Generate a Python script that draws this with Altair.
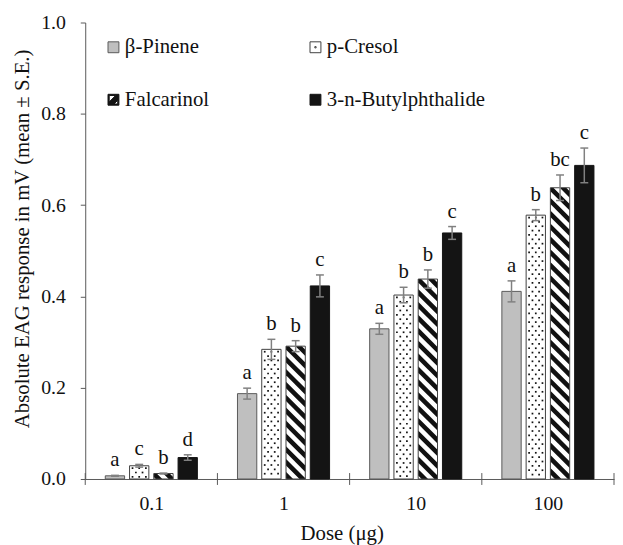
import altair as alt
import pandas as pd
import numpy as np

# ---------------- data ----------------
doses = ["0.1", "1", "10", "100"]
compounds = ["β-Pinene", "p-Cresol", "Falcarinol", "3-n-Butylphthalide"]

pinene_mean = [0.007, 0.187, 0.329, 0.411]
cresol_mean = [0.029, 0.284, 0.403, 0.578]
falcarinol_mean = [0.012, 0.291, 0.438, 0.638]
butyl_mean = [0.047, 0.423, 0.539, 0.687]

pinene_se = [0.001, 0.012, 0.012, 0.023]
cresol_se = [0.003, 0.022, 0.017, 0.012]
falcarinol_se = [0.001, 0.012, 0.020, 0.028]
butyl_se = [0.006, 0.024, 0.014, 0.038]

pinene_sig = ["a", "a", "a", "a"]
cresol_sig = ["c", "b", "b", "b"]
falcarinol_sig = ["b", "b", "b", "bc"]
butyl_sig = ["d", "c", "c", "c"]

# ---------------- styles / layout ----------------
FONT = "Liberation Serif"
FS = 21
W, H = 534, 461
PXX = W / len(doses)      # pixels per category unit
PXY = H / 1.0             # pixels per y unit
BAR_W = 19.5
BAR_STEP = 24.5
CAP = 4.0
fills = ["#bfbfbf", "#ffffff", "#ffffff", "#141414"]
strokes = ["#595959", "#404040", "#404040", "#141414"]
legend_fills = ["#bfbfbf", "#ffffff", "#141414", "#141414"]
legend_strokes = ["#595959", "#404040", "#141414", "#141414"]
shapes = [
    "square",
    "M-1,-1H1V1H-1Z M-0.12,-0.12H0.12V0.12H-0.12Z",
    "M-1,-1L1,-1L1,1L-1,1Z M-0.78,-0.78L-0.78,0.4L0.4,-0.78Z M0.78,0.1L0.1,0.78L0.78,0.78Z",
    "square",
]
AXIS_COL = "#595959"
ERR_COL = "#808080"
TXT_COL = "#111111"
LEG_X0, LEG_DX, LEG_Y0, LEG_DY, LEG_TXT = 28.5, 204, 25, 53, 11.5

means = [pinene_mean, cresol_mean, falcarinol_mean, butyl_mean]
ses = [pinene_se, cresol_se, falcarinol_se, butyl_se]
sigs = [pinene_sig, cresol_sig, falcarinol_sig, butyl_sig]

rows = []
for gi, d in enumerate(doses):
    for ci, c in enumerate(compounds):
        cpx = (gi + 0.5) * PXX + (ci - 1.5) * BAR_STEP
        m = means[ci][gi]
        s = ses[ci][gi]
        rows.append(dict(
            dose=d, compound=c, ci=ci,
            xc=cpx / PXX,
            x0=(cpx - BAR_W / 2) / PXX, x1=(cpx + BAR_W / 2) / PXX,
            c0=(cpx - CAP) / PXX, c1=(cpx + CAP) / PXX,
            mean=m, se=s, lo=m - s, hi=m + s, sig=sigs[ci][gi],
            fill=fills[ci], stroke=strokes[ci], zero=0.0,
        ))
bars = pd.DataFrame(rows)

# dotted pattern (p-Cresol)
dots = []
for _, r in bars[bars.ci == 1].iterrows():
    hpx = r["mean"] * PXY
    x0px = r["x0"] * PXX
    k = 0
    yft = 2.4
    while yft < hpx - 1.2:
        offs = [3.0, 9.75, 16.5] if k % 2 == 0 else [6.4, 13.1]
        for o in offs:
            dots.append(dict(x=(x0px + o) / PXX, y=r["mean"] - yft / PXY))
        yft += 4.4
        k += 1
dots = pd.DataFrame(dots)

# diagonal stripes (Falcarinol), clipped to each bar
PERIOD, THICK = 13.0, 6.5
stripes = []
sid = 0
for _, r in bars[bars.ci == 2].iterrows():
    x0, x1 = r["x0"] * PXX, r["x1"] * PXX
    ytop, ybot = H - r["mean"] * PXY, H
    c = ytop - x1 - THICK - 3.0
    while c < ybot - x0:
        cand = [x0, x1, ytop - c, ybot - c, ytop - c - THICK, ybot - c - THICK]
        xs = sorted(set(round(min(max(v, x0), x1), 6) for v in cand))
        pts = []
        for xv in xs:
            up = min(max(xv + c, ytop), ybot)
            lw = min(max(xv + c + THICK, ytop), ybot)
            pts.append((xv, up, lw))
        if any(p[2] - p[1] > 1e-6 for p in pts):
            for xv, up, lw in pts:
                stripes.append(dict(sid="s%d" % sid, sx=xv / PXX,
                                    sy=(H - up) / PXY, sy2=(H - lw) / PXY))
            sid += 1
        c += PERIOD
stripes = pd.DataFrame(stripes)

bounds = pd.DataFrame({"b": list(range(len(doses) + 1))})

# legend table (2 columns, row-major)
legend_df = pd.DataFrame({
    "compound": compounds,
    "lx": [LEG_X0 + (i % 2) * LEG_DX for i in range(len(compounds))],
    "ly": [LEG_Y0 + (i // 2) * LEG_DY for i in range(len(compounds))],
})
legend_df["tx"] = legend_df["lx"] + LEG_TXT

# ---------------- chart ----------------
xscale = alt.Scale(domain=[0, len(doses)], nice=False, zero=False)
yscale = alt.Scale(domain=[0, 1], nice=False)
label_expr = "[" + ",".join("'%s'" % d for d in doses) + "][floor(datum.value)]"

xaxis = alt.Axis(values=[i + 0.5 for i in range(len(doses))], labelExpr=label_expr,
                 ticks=False, tickSize=0, labelPadding=15, grid=False,
                 title="Dose (μg)", titleX=259, titleY=61, titleBaseline="alphabetic",
                 titleAlign="center")
yaxis = alt.Axis(values=[0, 0.2, 0.4, 0.6, 0.8, 1.0], format=".1f", tickSize=5,
                 labelPadding=15, grid=False,
                 title="Absolute EAG response in mV (mean ± S.E.)",
                 titleX=-57, titleY=218, titleBaseline="alphabetic", titleAlign="center")

base = alt.Chart(bars)

bar_fill = base.mark_rect(strokeWidth=0).encode(
    x=alt.X("x0:Q", scale=xscale, axis=xaxis),
    x2="x1:Q",
    y=alt.Y("zero:Q", scale=yscale, axis=yaxis),
    y2="mean:Q",
    fill=alt.Fill("fill:N", scale=None),
)

dot_layer = alt.Chart(dots).mark_square(size=3, color="#111111", opacity=1).encode(
    x="x:Q", y="y:Q"
)

stripe_layer = alt.Chart(stripes).mark_area(color="#111111", opacity=1).encode(
    x="sx:Q", y="sy:Q", y2="sy2:Q", detail="sid:N"
)

bar_outline = base.mark_rect(fillOpacity=0, strokeWidth=1).encode(
    x="x0:Q", x2="x1:Q", y="zero:Q", y2="mean:Q",
    stroke=alt.Stroke("stroke:N", scale=None),
)

err = base.mark_rule(color=ERR_COL, strokeWidth=1.5).encode(x="xc:Q", y="lo:Q", y2="hi:Q")
cap_hi = base.mark_rule(color=ERR_COL, strokeWidth=1.5).encode(x="c0:Q", x2="c1:Q", y="hi:Q")
cap_lo = base.mark_rule(color=ERR_COL, strokeWidth=1.5).encode(x="c0:Q", x2="c1:Q", y="lo:Q")

letters = base.mark_text(font=FONT, fontSize=FS, color=TXT_COL, baseline="alphabetic",
                         dy=-9).encode(x="xc:Q", y="hi:Q", text="sig:N")

xticks = alt.Chart(bounds).mark_rule(color=AXIS_COL, strokeWidth=1).encode(
    x="b:Q", y=alt.value(H - 6), y2=alt.value(H + 6)
)

leg_sym = alt.Chart(legend_df).mark_point(filled=True, opacity=1, strokeWidth=1, size=121).encode(
    x=alt.X("lx:Q", scale=None),
    y=alt.Y("ly:Q", scale=None),
    fill=alt.Fill("compound:N", scale=alt.Scale(domain=compounds, range=legend_fills), legend=None),
    stroke=alt.Stroke("compound:N", scale=alt.Scale(domain=compounds, range=legend_strokes), legend=None),
    shape=alt.Shape("compound:N", scale=alt.Scale(domain=compounds, range=shapes), legend=None),
)
leg_txt = alt.Chart(legend_df).mark_text(font=FONT, fontSize=FS, color=TXT_COL, align="left",
                                         baseline="middle").encode(
    x=alt.X("tx:Q", scale=None),
    y=alt.Y("ly:Q", scale=None),
    text="compound:N",
)

chart = alt.layer(
    bar_fill, dot_layer, stripe_layer, bar_outline, err, cap_hi, cap_lo, letters, xticks,
    leg_sym, leg_txt
).properties(
    width=W, height=H,
    autosize=alt.AutoSizeParams(type="none"),
    padding={"left": 78, "top": 12, "right": 1, "bottom": 64},
).configure_view(stroke=None).configure_axis(
    domainColor=AXIS_COL, domainWidth=1, tickColor=AXIS_COL, tickWidth=1,
    labelFont=FONT, labelFontSize=20, labelColor=TXT_COL,
    titleFont=FONT, titleFontSize=FS, titleFontWeight="normal", titleColor=TXT_COL,
)

chart.save("out.html", embed_options={"renderer": "svg", "actions": False})
